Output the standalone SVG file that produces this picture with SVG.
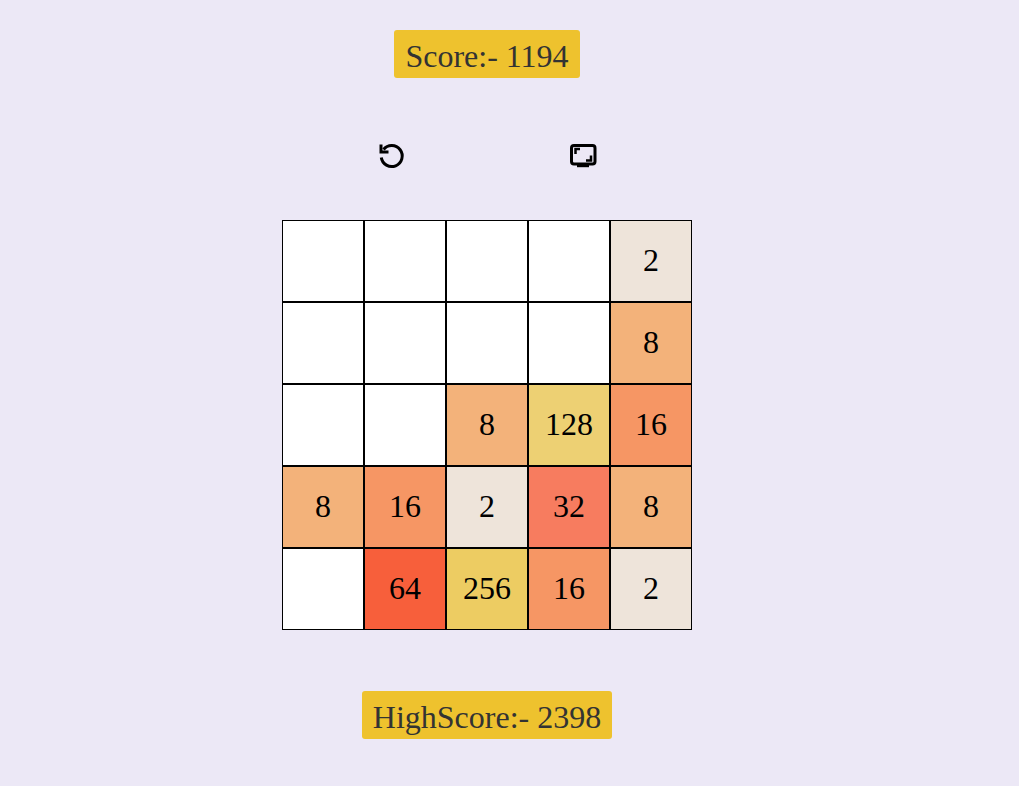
<svg xmlns="http://www.w3.org/2000/svg" width="1019" height="786" viewBox="0 0 1019 786">
<style>
.bg{fill:#ece8f6}
.badge{fill:#eec22e}
.lbl{font:32px "Liberation Serif","Times New Roman",serif;fill:#333;text-anchor:middle}
.cell rect{stroke:#000;stroke-width:1}
.cell text{font:32px "Liberation Serif","Times New Roman",serif;fill:#000;text-anchor:middle}
.e{fill:#fff}.v2{fill:#eee4da}.v8{fill:#f3b27a}.v16{fill:#f69664}.v32{fill:#f77c5f}.v64{fill:#f75f3b}.v128{fill:#edd073}.v256{fill:#edcc62}
.ic{fill:none;stroke:#000;stroke-width:3}
</style>
<rect class="bg" width="1019" height="786"/>
<g id="score"><rect class="badge" x="394" y="30" width="186" height="48" rx="3"/><text class="lbl" x="487" y="67">Score:- 1194</text></g>
<g id="restart"><path class="ic" d="M383.500 149.500A10.500 10.500 0 1 1 381.300 157.500"/><path class="ic" d="M381 144.500v7.500h7.500"/></g>
<g id="fullscreen"><rect class="ic" x="571.500" y="145.500" width="23.500" height="18.500" rx="2.500"/><path style="fill:none;stroke:#000;stroke-width:2.500" d="M575.500 154v-5h4.500M591 155.500v5h-5"/><rect x="577" y="164" width="12" height="3.200" fill="#000"/></g>
<g id="board">
<g class="cell" id="c00"><rect class="e" x="282.500" y="220.500" width="81" height="81"/></g>
<g class="cell" id="c01"><rect class="e" x="364.500" y="220.500" width="81" height="81"/></g>
<g class="cell" id="c02"><rect class="e" x="446.500" y="220.500" width="81" height="81"/></g>
<g class="cell" id="c03"><rect class="e" x="528.500" y="220.500" width="81" height="81"/></g>
<g class="cell" id="c04"><rect class="v2" x="610.500" y="220.500" width="81" height="81"/><text x="651" y="271">2</text></g>
<g class="cell" id="c10"><rect class="e" x="282.500" y="302.500" width="81" height="81"/></g>
<g class="cell" id="c11"><rect class="e" x="364.500" y="302.500" width="81" height="81"/></g>
<g class="cell" id="c12"><rect class="e" x="446.500" y="302.500" width="81" height="81"/></g>
<g class="cell" id="c13"><rect class="e" x="528.500" y="302.500" width="81" height="81"/></g>
<g class="cell" id="c14"><rect class="v8" x="610.500" y="302.500" width="81" height="81"/><text x="651" y="353">8</text></g>
<g class="cell" id="c20"><rect class="e" x="282.500" y="384.500" width="81" height="81"/></g>
<g class="cell" id="c21"><rect class="e" x="364.500" y="384.500" width="81" height="81"/></g>
<g class="cell" id="c22"><rect class="v8" x="446.500" y="384.500" width="81" height="81"/><text x="487" y="435">8</text></g>
<g class="cell" id="c23"><rect class="v128" x="528.500" y="384.500" width="81" height="81"/><text x="569" y="435">128</text></g>
<g class="cell" id="c24"><rect class="v16" x="610.500" y="384.500" width="81" height="81"/><text x="651" y="435">16</text></g>
<g class="cell" id="c30"><rect class="v8" x="282.500" y="466.500" width="81" height="81"/><text x="323" y="517">8</text></g>
<g class="cell" id="c31"><rect class="v16" x="364.500" y="466.500" width="81" height="81"/><text x="405" y="517">16</text></g>
<g class="cell" id="c32"><rect class="v2" x="446.500" y="466.500" width="81" height="81"/><text x="487" y="517">2</text></g>
<g class="cell" id="c33"><rect class="v32" x="528.500" y="466.500" width="81" height="81"/><text x="569" y="517">32</text></g>
<g class="cell" id="c34"><rect class="v8" x="610.500" y="466.500" width="81" height="81"/><text x="651" y="517">8</text></g>
<g class="cell" id="c40"><rect class="e" x="282.500" y="548.500" width="81" height="81"/></g>
<g class="cell" id="c41"><rect class="v64" x="364.500" y="548.500" width="81" height="81"/><text x="405" y="599">64</text></g>
<g class="cell" id="c42"><rect class="v256" x="446.500" y="548.500" width="81" height="81"/><text x="487" y="599">256</text></g>
<g class="cell" id="c43"><rect class="v16" x="528.500" y="548.500" width="81" height="81"/><text x="569" y="599">16</text></g>
<g class="cell" id="c44"><rect class="v2" x="610.500" y="548.500" width="81" height="81"/><text x="651" y="599">2</text></g>
</g>
<g id="highscore"><rect class="badge" x="362" y="691" width="250" height="48" rx="3"/><text class="lbl" x="487" y="728">HighScore:- 2398</text></g>
</svg>
